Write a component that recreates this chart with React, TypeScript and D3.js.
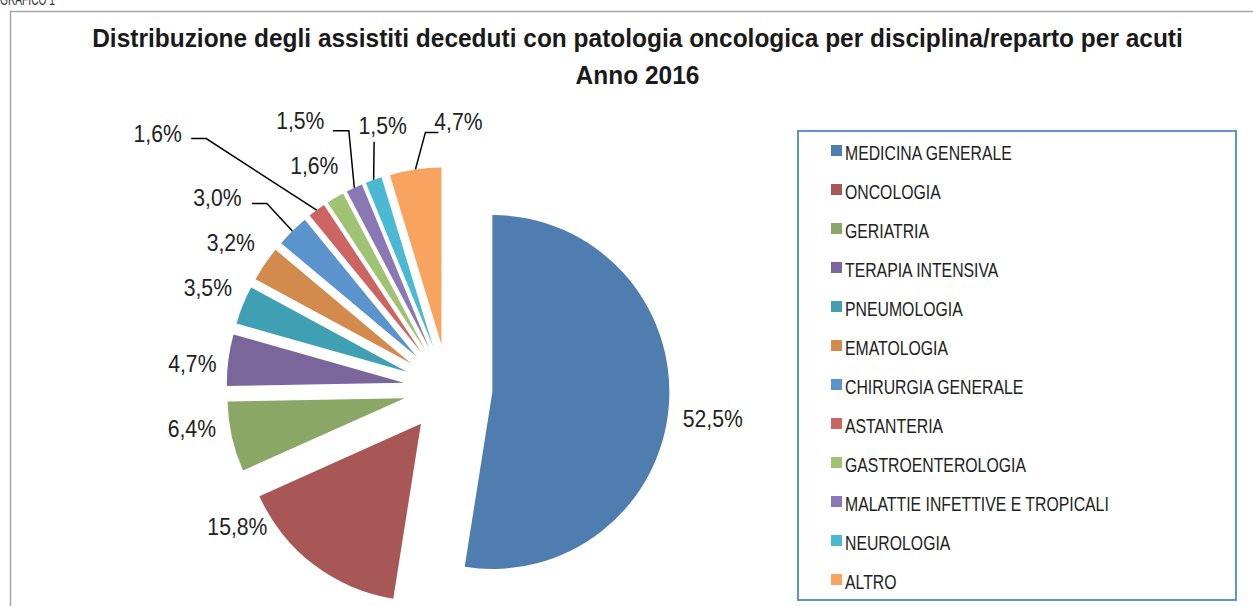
import React, { useEffect, useRef } from 'react';
import * as d3 from 'd3';

const categories = [
  'MEDICINA GENERALE',
  'ONCOLOGIA',
  'GERIATRIA',
  'TERAPIA INTENSIVA',
  'PNEUMOLOGIA',
  'EMATOLOGIA',
  'CHIRURGIA GENERALE',
  'ASTANTERIA',
  'GASTROENTEROLOGIA',
  'MALATTIE INFETTIVE E TROPICALI',
  'NEUROLOGIA',
  'ALTRO',
];
const values = [52.5, 15.8, 6.4, 4.7, 3.5, 3.2, 3.0, 1.6, 1.6, 1.5, 1.5, 4.7];
const colors = [
  '#4f7daf', '#a75755', '#8aa766', '#7a669b', '#3f9fb3', '#d38b4d',
  '#5b93cc', '#cc6462', '#9fc273', '#8a78b5', '#4bb9d4', '#f8a35f',
];
const titleLines = [
  'Distribuzione degli assistiti deceduti con patologia oncologica per disciplina/reparto per acuti',
  'Anno 2016',
];

// label nudges from the slice's outer mid point (layout only)
const labelNudge: [number, number][] = [
  [44, 12], [-76, -38], [-40, -8], [-36, 3], [-35, -18], [-34, -22],
  [-75, -34], [-159, -77], [-21, -32], [-54, -67], [9, -55], [43, -48],
];
// leader lines: [end, elbow] relative to label centre, null = none
const leaders: ([number, number][] | null)[] = [
  null, null, null, null, null, null,
  [[34.5, 6.5], [49.5, 6.5]],
  [[33.5, 5.5], [48.5, 5.5]],
  null,
  [[32.5, 10], [48.5, 10]],
  [[-8.5, 17], [-8.5, 17]],
  [[-20, 11], [-33, 11]],
];

const FONT = "'Liberation Sans', Arial, sans-serif";

type Sel = d3.Selection<any, unknown, null, undefined>;

// measure natural width of a string to derive a horizontal condense factor
function condenseFactor(parent: Sel, str: string, size: number, weight: string, target: number) {
  const t = parent.append('text')
    .attr('font-family', FONT).attr('font-size', size).attr('font-weight', weight)
    .text(str);
  const w = (t.node() as SVGTextElement).getComputedTextLength();
  t.remove();
  return w > 0 ? target / w : 0.85;
}

function ctext(parent: Sel, str: string, x: number, y: number, size: number, weight: string,
  anchor: string, f: number, fill: string, dy = '0') {
  parent.append('g')
    .attr('transform', `translate(${x},${y}) scale(${f},1)`)
    .append('text')
    .attr('text-anchor', anchor).attr('dy', dy)
    .attr('font-family', FONT).attr('font-size', size).attr('font-weight', weight)
    .attr('fill', fill)
    .text(str);
}

export default function App() {
  const ref = useRef<SVGSVGElement>(null);

  useEffect(() => {
    const width = 1253;
    const height = 606;
    const svg = d3.select(ref.current);
    svg.selectAll('*').remove();
    svg.attr('width', width).attr('height', height);

    svg.append('rect').attr('width', width).attr('height', height).attr('fill', '#fff');

    const fTitle = condenseFactor(svg, titleLines[0], 25, 'bold', 1091);
    const fLabel = condenseFactor(svg, '52,5%', 24, 'normal', 60);
    const fLegend = condenseFactor(svg, categories[0], 21, 'normal', 167);
    const fCap = condenseFactor(svg, 'GRAFICO 1', 17, 'normal', 55);

    // caption, cut off by the top edge as in the source
    ctext(svg, 'GRAFICO 1', 0, 5, 17, 'normal', 'start', fCap, '#333');

    // chart frame
    svg.append('path')
      .attr('d', `M10.5,${height} V11.5 H${width}`)
      .attr('fill', 'none').attr('stroke', '#a6a6a6').attr('stroke-width', 1.5);

    // title
    titleLines.forEach((t, i) => {
      ctext(svg, t, 637.5, 47 + i * 37, 25, 'bold', 'middle', fTitle, '#1a1a1a');
    });

    const cx = 448;
    const cy = 388.5;
    const r = 177;
    const explode = 44.5;

    const pie = d3.pie<number>().sort(null).value((d) => d);
    const arcs = pie(values);
    const arc = d3.arc<d3.PieArcDatum<number>>().innerRadius(0).outerRadius(r);

    const g = svg.append('g').attr('transform', `translate(${cx},${cy})`);
    const dir = (a: number): [number, number] => [Math.sin(a), -Math.cos(a)];

    arcs.forEach((a, i) => {
      const mid = (a.startAngle + a.endAngle) / 2;
      const [ux, uy] = dir(mid);
      g.append('path')
        .attr('d', arc(a) as string)
        .attr('transform', `translate(${ux * explode},${uy * explode})`)
        .attr('fill', colors[i]);

      const ox = ux * (explode + r);
      const oy = uy * (explode + r);
      const lx = ox + labelNudge[i][0];
      const ly = oy + labelNudge[i][1];

      const ld = leaders[i];
      if (ld) {
        const pts: [number, number][] = [
          [lx + ld[0][0], ly + ld[0][1]],
          [lx + ld[1][0], ly + ld[1][1]],
          [ox, oy],
        ];
        g.append('path')
          .attr('d', d3.line()(pts) as string)
          .attr('fill', 'none').attr('stroke', '#000').attr('stroke-width', 1.5);
      }

      ctext(g, values[i].toFixed(1).replace('.', ',') + '%', lx, ly, 24, 'normal', 'middle',
        fLabel, '#222', '0.36em');
    });

    // legend
    const lg = svg.append('g');
    lg.append('rect')
      .attr('x', 798).attr('y', 131).attr('width', 438).attr('height', 469)
      .attr('fill', '#fff').attr('stroke', '#5f93d0').attr('stroke-width', 2);

    const band = d3.scaleBand<string>().domain(categories).range([138, 606]).padding(0);
    categories.forEach((c, i) => {
      const y = (band(c) as number) + 7;
      lg.append('rect')
        .attr('x', 831).attr('y', y).attr('width', 11).attr('height', 11)
        .attr('fill', colors[i]);
      ctext(lg, c, 845, y + 15, 21, 'normal', 'start', fLegend, '#222');
    });
  }, []);

  return (
    <svg
      ref={ref}
      style={{ position: 'absolute', left: 0, top: 0, display: 'block' }}
    />
  );
}
